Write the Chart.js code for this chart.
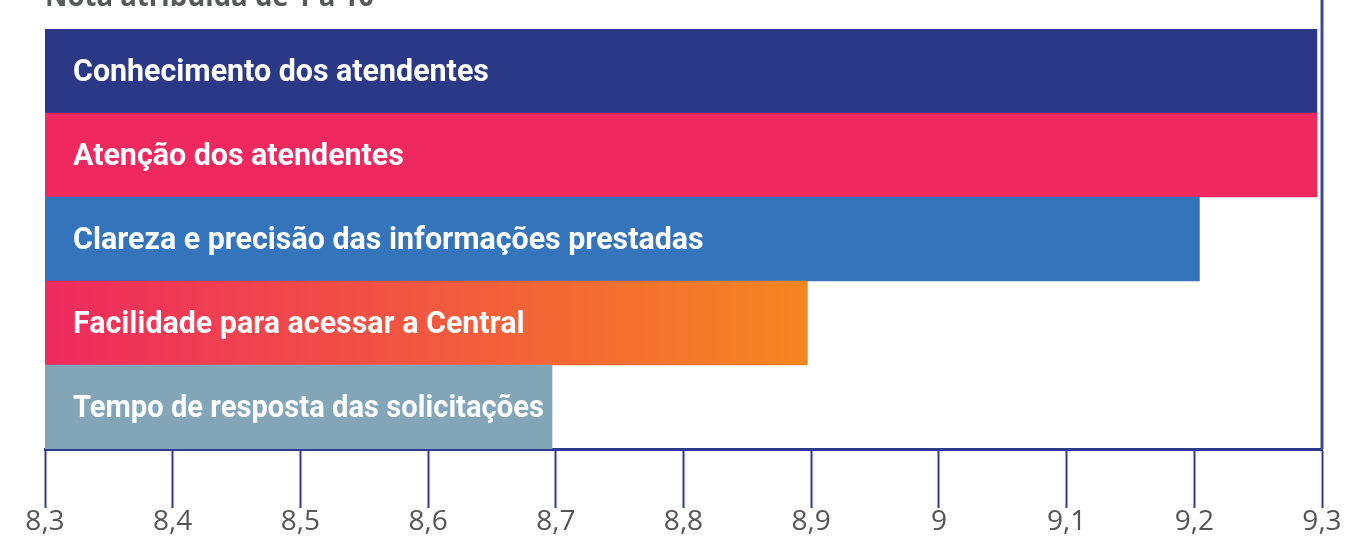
<!DOCTYPE html>
<html>
<head>
<meta charset="utf-8">
<script src="https://cdn.jsdelivr.net/npm/chart.js@4"></script>
<style>
  html, body { margin: 0; padding: 0; background: #fff; }
  #wrap { width: 1351px; height: 536px; }
</style>
</head>
<body>
<div id="wrap"><canvas id="chartNotas"></canvas></div>
<script>
const categorias = [
  "Conhecimento dos atendentes",
  "Atenção dos atendentes",
  "Clareza e precisão das informações prestadas",
  "Facilidade para acessar a Central",
  "Tempo de resposta das solicitações"
];
const notas = [9.296, 9.296, 9.204, 8.897, 8.697];
const tickValues = [8.3, 8.4, 8.5, 8.6, 8.7, 8.8, 8.9, 9.0, 9.1, 9.2, 9.3];
const tickLabels = ["8,3", "8,4", "8,5", "8,6", "8,7", "8,8", "8,9", "9", "9,1", "9,2", "9,3"];
const titulo = "Nota atribuída de 1 a 10";

const azulEixo = "#2E3A8F";

document.addEventListener("DOMContentLoaded", () => {
  const ctx = document.getElementById("chartNotas");

  // bar fill per category; the 4th one is a pink -> orange gradient
  const fill = (c) => {
    const chart = c.chart;
    const area = chart.chartArea;
    if (!area) return "#EE2A5F";
    switch (c.dataIndex) {
      case 0: return "#2B3886";
      case 1: return "#EF295F";
      case 2: return "#3374BA";
      case 3: {
        const x = chart.scales.x;
        const g = chart.ctx.createLinearGradient(area.left, 0, x.getPixelForValue(notas[3]), 0);
        g.addColorStop(0, "#EE2A5F");
        g.addColorStop(1, "#F58620");
        return g;
      }
      default: return "#82A5B8";
    }
  };

  const extras = {
    id: "extras",
    afterDatasetsDraw(chart) {
      const c = chart.ctx;
      const area = chart.chartArea;
      const meta = chart.getDatasetMeta(0);
      const sx = 0.98;
      c.save();
      c.fillStyle = "#fff";
      c.font = "bold 31px Roboto";
      c.textBaseline = "middle";
      meta.data.forEach((bar, i) => {
        const x0 = area.left + 28;
        // keep the label inside its bar
        const room = (bar.x - x0 - 8) / sx;
        c.save();
        c.translate(x0, bar.y + 2);
        c.scale(sx, 1);
        c.fillText(categorias[i], 0, 0, room);
        c.restore();
      });
      c.restore();

      // right frame line at the end of the scale
      const xr = chart.scales.x.getPixelForValue(9.3);
      c.save();
      c.strokeStyle = "#3A4699";
      c.lineWidth = 3;
      c.beginPath();
      c.moveTo(xr, 0);
      c.lineTo(xr, area.bottom);
      c.stroke();
      c.restore();

      // title, cut off at the top edge as in the original
      c.save();
      c.fillStyle = "#58595B";
      c.font = "bold 29px 'Open Sans'";
      c.textBaseline = "alphabetic";
      c.translate(area.left, 6);
      c.scale(0.95, 1);
      c.fillText(titulo, 0, 0);
      c.restore();
    }
  };

  new Chart(ctx, {
    type: "bar",
    data: {
      labels: categorias,
      datasets: [{
        data: notas,
        backgroundColor: fill,
        borderWidth: 0,
        barPercentage: 1,
        categoryPercentage: 1
      }]
    },
    plugins: [extras],
    options: {
      indexAxis: "y",
      responsive: true,
      maintainAspectRatio: false,
      animation: false,
      layout: { padding: { left: 45, right: 29, top: 29, bottom: 0 } },
      plugins: {
        legend: { display: false },
        tooltip: { enabled: false }
      },
      scales: {
        x: {
          min: 8.3,
          max: 9.3,
          afterBuildTicks: (scale) => {
            scale.ticks = tickValues.map(v => ({ value: v }));
          },
          ticks: {
            autoSkip: false,
            maxRotation: 0,
            padding: 0,
            color: "#555",
            font: { family: "'Open Sans'", size: 28, lineHeight: 1 },
            callback: (v, i) => tickLabels[i]
          },
          grid: {
            drawOnChartArea: false,
            drawTicks: true,
            tickLength: 59,
            tickWidth: 2,
            tickColor: azulEixo
          },
          border: { color: azulEixo, width: 3 }
        },
        y: {
          display: false
        }
      }
    }
  });
});
</script>
</body>
</html>
